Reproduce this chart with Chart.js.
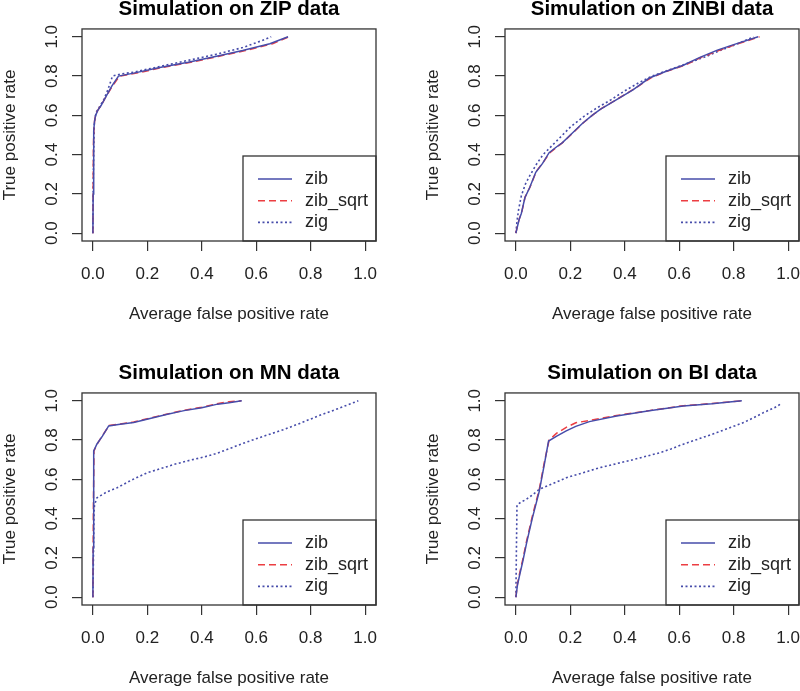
<!DOCTYPE html>
<html>
<head>
<meta charset="utf-8">
<script src="https://cdn.jsdelivr.net/npm/chart.js@4.4.1/dist/chart.umd.min.js"></script>
<style>
  html, body { margin: 0; padding: 0; background: #fff; }
  body { width: 800px; height: 691px; overflow: hidden; position: relative; }
  canvas { position: absolute; }
</style>
</head>
<body>
<canvas id="zip" width="423" height="364" style="left:0;top:0"></canvas>
<canvas id="zinbi" width="423" height="364" style="left:423px;top:0"></canvas>
<canvas id="mn" width="423" height="364" style="left:0;top:364px"></canvas>
<canvas id="bi" width="423" height="364" style="left:423px;top:364px"></canvas>
<script>
const tickValues = [0, 0.2, 0.4, 0.6, 0.8, 1.0]
const tickLabels = ['0.0', '0.2', '0.4', '0.6', '0.8', '1.0']
const seriesNames = ['zib', 'zib_sqrt', 'zig']

// ZIP
const zipZibX = [0, 0.001, 0.002, 0.004, 0.006, 0.010, 0.018, 0.030, 0.050, 0.070, 0.094, 0.15, 0.25, 0.35, 0.45, 0.55, 0.65, 0.717]
const zipZibY = [0, 0.20, 0.40, 0.52, 0.57, 0.60, 0.625, 0.65, 0.70, 0.75, 0.80, 0.815, 0.845, 0.870, 0.900, 0.930, 0.965, 1.0]
const zipSqrtX = [0, 0.001, 0.002, 0.004, 0.007, 0.012, 0.020, 0.032, 0.050, 0.072, 0.098, 0.16, 0.26, 0.36, 0.46, 0.56, 0.66, 0.72]
const zipSqrtY = [0, 0.22, 0.45, 0.54, 0.58, 0.61, 0.63, 0.655, 0.70, 0.75, 0.80, 0.815, 0.845, 0.87, 0.90, 0.93, 0.965, 1.0]
const zipZigX = [0, 0.001, 0.003, 0.005, 0.008, 0.014, 0.025, 0.040, 0.055, 0.072, 0.10, 0.15, 0.25, 0.35, 0.45, 0.55, 0.62, 0.655]
const zipZigY = [0, 0.24, 0.42, 0.55, 0.59, 0.62, 0.645, 0.68, 0.73, 0.80, 0.81, 0.82, 0.85, 0.88, 0.91, 0.945, 0.98, 1.0]

// ZINBI
const zinbiZibX = [0, 0.005, 0.012, 0.02, 0.033, 0.05, 0.073, 0.098, 0.122, 0.15, 0.17, 0.2, 0.245, 0.28, 0.31, 0.37, 0.43, 0.49, 0.55, 0.615, 0.676, 0.74, 0.80, 0.89]
const zinbiZibY = [0, 0.03, 0.07, 0.10, 0.18, 0.23, 0.31, 0.355, 0.41, 0.44, 0.46, 0.50, 0.56, 0.60, 0.63, 0.68, 0.73, 0.79, 0.823, 0.855, 0.895, 0.932, 0.96, 1.0]
const zinbiSqrtX = [0, 0.006, 0.013, 0.022, 0.034, 0.052, 0.075, 0.10, 0.125, 0.152, 0.175, 0.205, 0.25, 0.285, 0.315, 0.375, 0.435, 0.495, 0.555, 0.62, 0.68, 0.745, 0.81, 0.895]
const zinbiSqrtY = [0, 0.04, 0.075, 0.11, 0.185, 0.235, 0.315, 0.36, 0.41, 0.44, 0.465, 0.505, 0.565, 0.605, 0.635, 0.685, 0.735, 0.79, 0.825, 0.855, 0.895, 0.93, 0.962, 1.0]
const zinbiZigX = [0, 0.004, 0.010, 0.020, 0.035, 0.050, 0.075, 0.10, 0.15, 0.20, 0.25, 0.30, 0.35, 0.40, 0.45, 0.50, 0.55, 0.60, 0.65, 0.70, 0.75, 0.81, 0.873]
const zinbiZigY = [0, 0.06, 0.12, 0.19, 0.25, 0.29, 0.35, 0.40, 0.47, 0.54, 0.595, 0.64, 0.68, 0.725, 0.765, 0.80, 0.825, 0.85, 0.875, 0.90, 0.93, 0.962, 1.0]

// MN
const mnZibX = [0, 0.001, 0.002, 0.004, 0.015, 0.035, 0.058, 0.10, 0.15, 0.21, 0.27, 0.335, 0.40, 0.458, 0.50, 0.547]
const mnZibY = [0, 0.25, 0.50, 0.745, 0.78, 0.82, 0.872, 0.88, 0.89, 0.91, 0.93, 0.95, 0.965, 0.983, 0.99, 1.0]
const mnSqrtX = [0, 0.001, 0.002, 0.004, 0.016, 0.036, 0.060, 0.10, 0.15, 0.21, 0.27, 0.335, 0.40, 0.455, 0.50, 0.545]
const mnSqrtY = [0, 0.24, 0.48, 0.745, 0.78, 0.825, 0.875, 0.882, 0.892, 0.912, 0.932, 0.952, 0.967, 0.985, 0.995, 1.0]
const mnZigX = [0, 0.002, 0.004, 0.006, 0.015, 0.05, 0.089, 0.14, 0.2, 0.25, 0.298, 0.35, 0.397, 0.45, 0.495, 0.545, 0.594, 0.65, 0.704, 0.76, 0.828, 0.9, 0.975]
const mnZigY = [0, 0.2, 0.43, 0.47, 0.506, 0.535, 0.557, 0.595, 0.634, 0.655, 0.676, 0.695, 0.71, 0.73, 0.753, 0.78, 0.804, 0.83, 0.855, 0.885, 0.923, 0.96, 1.0]

// BI
const biZibX = [0, 0.006, 0.015, 0.025, 0.04, 0.06, 0.086, 0.105, 0.12, 0.15, 0.185, 0.22, 0.27, 0.37, 0.49, 0.615, 0.72, 0.83]
const biZibY = [0, 0.063, 0.12, 0.18, 0.28, 0.40, 0.54, 0.68, 0.795, 0.82, 0.847, 0.87, 0.894, 0.923, 0.949, 0.974, 0.985, 1.0]
const biSqrtX = [0, 0.006, 0.015, 0.025, 0.04, 0.06, 0.086, 0.105, 0.122, 0.15, 0.185, 0.22, 0.27, 0.37, 0.49, 0.615, 0.72, 0.83]
const biSqrtY = [0, 0.07, 0.13, 0.19, 0.29, 0.41, 0.55, 0.69, 0.80, 0.835, 0.865, 0.888, 0.90, 0.925, 0.95, 0.975, 0.986, 1.0]
const biZigX = [0, 0.002, 0.004, 0.02, 0.037, 0.06, 0.086, 0.13, 0.185, 0.25, 0.308, 0.37, 0.43, 0.48, 0.53, 0.57, 0.615, 0.68, 0.738, 0.79, 0.836, 0.875, 0.91, 0.95, 0.978]
const biZigY = [0, 0.25, 0.47, 0.485, 0.497, 0.52, 0.549, 0.575, 0.608, 0.635, 0.659, 0.68, 0.70, 0.718, 0.736, 0.755, 0.779, 0.81, 0.838, 0.865, 0.889, 0.915, 0.94, 0.965, 0.988]

const blueColor = 'rgb(70, 76, 170)'
const redColor = 'rgb(236, 62, 66)'
const inkColor = '#222'
const fontFamily = '"Liberation Sans", Arial, sans-serif'

const toPoints = (xs, ys) => xs.map((x, i) => ({ x: x, y: ys[i] }))

// R style box around the plot + legend in bottom right corner
const rBox = {
    id: 'rBox',
    afterDatasetsDraw(chart) {
        const { ctx, chartArea } = chart
        const w = 133, h = 85
        const x0 = chartArea.right - w, y0 = chartArea.bottom - h
        ctx.save()
        ctx.fillStyle = '#fff'
        ctx.fillRect(x0, y0, w, h)
        ctx.strokeStyle = '#333'
        ctx.lineWidth = 1.3
        ctx.strokeRect(x0, y0, w, h)
        ctx.font = '18px ' + fontFamily
        ctx.textBaseline = 'middle'
        ctx.textAlign = 'left'
        chart.data.datasets.forEach((ds, i) => {
            const y = y0 + 23 + i * 21.7
            ctx.strokeStyle = ds.borderColor
            ctx.lineWidth = ds.borderWidth
            ctx.setLineDash(ds.borderDash || [])
            ctx.beginPath()
            ctx.moveTo(x0 + 15, y)
            ctx.lineTo(x0 + 49, y)
            ctx.stroke()
            ctx.setLineDash([])
            ctx.fillStyle = inkColor
            ctx.fillText(ds.label, x0 + 62, y)
        })
        ctx.restore()
    },
    afterDraw(chart) {
        const { ctx, chartArea } = chart
        ctx.save()
        ctx.strokeStyle = '#333'
        ctx.lineWidth = 1.3
        ctx.strokeRect(chartArea.left, chartArea.top, chartArea.right - chartArea.left, chartArea.bottom - chartArea.top)
        ctx.restore()
    }
}

function setTicks(scale) {
    scale.ticks = tickValues.map(v => ({ value: v }))
}

function makeChart(id, title, zib, sqrt, zig) {
    new Chart(document.getElementById(id), {
        type: 'scatter',
        data: {
            datasets: [
                { label: seriesNames[0], data: zib, borderColor: blueColor, borderWidth: 1.5 },
                { label: seriesNames[1], data: sqrt, borderColor: redColor, borderWidth: 1.5, borderDash: [7, 4] },
                { label: seriesNames[2], data: zig, borderColor: blueColor, borderWidth: 1.6, borderDash: [2, 2.5] }
            ]
        },
        options: {
            responsive: false,
            animation: false,
            showLine: true,
            pointRadius: 0,
            pointHoverRadius: 0,
            layout: { padding: { left: 0, top: 0, right: 47, bottom: 0 } },
            scales: {
                x: {
                    type: 'linear',
                    min: -0.04,
                    max: 1.04,
                    afterBuildTicks: setTicks,
                    afterFit: (scale) => { scale.height = 123 },
                    border: { display: false },
                    grid: { drawOnChartArea: false, drawTicks: true, tickLength: 10, color: '#333', lineWidth: 1.2 },
                    ticks: {
                        autoSkip: false,
                        maxRotation: 0,
                        padding: 13,
                        color: inkColor,
                        font: { family: fontFamily, size: 17, lineHeight: 1.2 },
                        callback: (v) => tickLabels[tickValues.indexOf(v)]
                    },
                    title: {
                        display: true,
                        text: 'Average false positive rate',
                        color: inkColor,
                        font: { family: fontFamily, size: 17, lineHeight: 1.2 },
                        padding: { top: 0, bottom: 39 }
                    }
                },
                y: {
                    type: 'linear',
                    min: -0.04,
                    max: 1.04,
                    afterBuildTicks: setTicks,
                    afterFit: (scale) => { scale.width = 82 },
                    border: { display: false },
                    grid: { drawOnChartArea: false, drawTicks: true, tickLength: 10, color: '#333', lineWidth: 1.2 },
                    ticks: {
                        autoSkip: false,
                        minRotation: 90,
                        maxRotation: 90,
                        crossAlign: 'center',
                        padding: 8,
                        color: inkColor,
                        font: { family: fontFamily, size: 17, lineHeight: 1.2 },
                        callback: (v) => tickLabels[tickValues.indexOf(v)]
                    },
                    title: {
                        display: true,
                        text: 'True positive rate',
                        color: inkColor,
                        font: { family: fontFamily, size: 17, lineHeight: 1.2 },
                        padding: { top: 0, bottom: 0 }
                    }
                }
            },
            plugins: {
                legend: { display: false },
                tooltip: { enabled: false },
                title: {
                    display: true,
                    text: title,
                    fullSize: false,
                    color: '#000',
                    font: { family: fontFamily, size: 20.5, weight: 'bold', lineHeight: 0.9 },
                    padding: { top: 0, bottom: 10.5 }
                }
            }
        },
        plugins: [rBox]
    })
}

makeChart('zip', 'Simulation on ZIP data', toPoints(zipZibX, zipZibY), toPoints(zipSqrtX, zipSqrtY), toPoints(zipZigX, zipZigY))
makeChart('zinbi', 'Simulation on ZINBI data', toPoints(zinbiZibX, zinbiZibY), toPoints(zinbiSqrtX, zinbiSqrtY), toPoints(zinbiZigX, zinbiZigY))
makeChart('mn', 'Simulation on MN data', toPoints(mnZibX, mnZibY), toPoints(mnSqrtX, mnSqrtY), toPoints(mnZigX, mnZigY))
makeChart('bi', 'Simulation on BI data', toPoints(biZibX, biZibY), toPoints(biSqrtX, biSqrtY), toPoints(biZigX, biZigY))
</script>
</body>
</html>
